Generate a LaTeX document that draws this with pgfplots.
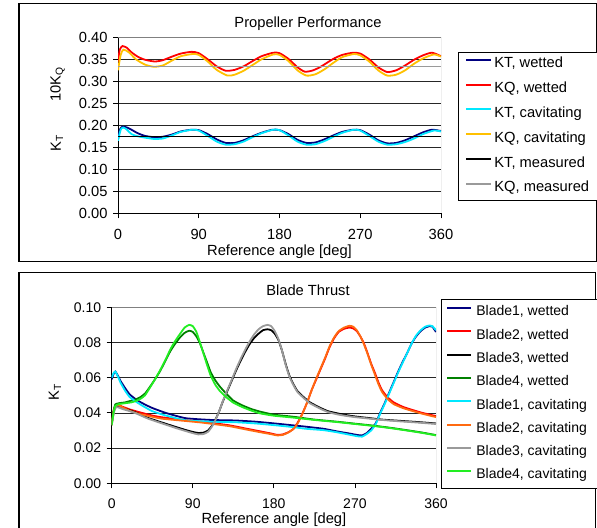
\documentclass[border=0pt]{standalone}
\usepackage{pgfplots}
\pgfplotsset{compat=1.18}
\usepackage{fontspec}
\setmainfont{Liberation Sans}
\definecolor{cnavy}{HTML}{000080}
\definecolor{cred}{HTML}{FF0000}
\definecolor{ccyan}{HTML}{00E8FF}
\definecolor{cgold}{HTML}{FFC000}
\definecolor{cgray}{HTML}{9A9A9A}
\definecolor{cdgreen}{HTML}{008000}
\definecolor{corange}{HTML}{FF6A10}
\definecolor{clgreen}{HTML}{22EE22}
\newcommand\fA{\fontsize{14.7bp}{17bp}\selectfont}
\newcommand\fB{\fontsize{14bp}{16.5bp}\selectfont}
\pgfplotsset{
  excelaxis/.style={
    scale only axis,
    xmin=0, xmax=360, xtick={0,90,180,270,360},
    axis x line*=bottom, axis y line*=left,
    tick align=outside, major tick length=5bp,
    tick style={black, line width=0.8bp},
    axis line style={black, line width=0.8bp},
    ymajorgrids, major grid style={black!85, line width=0.7bp},
    /pgf/number format/assume math mode=true,
    xticklabel style={yshift=-7bp},
    yticklabel style={xshift=-2bp,/pgf/number format/.cd, fixed, fixed zerofill, precision=2},
    legend cell align=left,
    every axis plot/.append style={line width=1.8bp, no markers},
  }
}
\begin{document}
\begin{tikzpicture}
\useasboundingbox (0bp,0bp) rectangle (597bp,528bp);
\draw[black, line width=1.1bp] (19bp,266.3bp) rectangle (596.5bp,524.5bp);
\draw[black, line width=1.1bp] (19bp,-5bp) rectangle (595.5bp,255.3bp);

\node[font=\fA, anchor=base] at (308bp,500.7bp) {Propeller Performance};
\node[font=\fA, anchor=base] at (308bp,232bp) {Blade Thrust};
\node[font=\fA, anchor=base] at (279.5bp,272bp) {Reference angle [deg]};
\node[font=\fA, anchor=base] at (273.9bp,4.7bp) {Reference angle [deg]};
\node[font=\fA, rotate=90] at (57.5bp,443.5bp) {10K\textsubscript{Q}};
\node[font=\fA, rotate=90] at (57bp,384.5bp) {K\textsubscript{T}};
\node[font=\fA, rotate=90] at (55bp,136bp) {K\textsubscript{T}};

% ---------- top chart ----------
\begin{axis}[excelaxis,
  at={(118bp,314.7bp)}, anchor=south west, width=323bp, height=176bp,
  ymin=0, ymax=0.4, ytick={0,0.05,0.1,0.15,0.2,0.25,0.3,0.35,0.4},
  ticklabel style={font=\fA},
  legend image code/.code={\draw[#1, line width=2bp] (0bp,4.5bp) -- (25bp,4.5bp);},
  legend style={at={(1.05263,0.9165)}, anchor=north west, draw=black, line width=0.8bp,
    fill=white, font=\fA, inner xsep=7bp, inner ysep=5bp, row sep=10.8bp, column sep=2bp,
    nodes={inner sep=0pt, text height=10.5bp, text depth=3.5bp}},
]
\addplot[cnavy, smooth, tension=0.4] coordinates {(0,0.168)(2,0.19)(5,0.197)(10,0.195)(15,0.190)(22,0.182)(30,0.176)(40,0.173)(50,0.174)(60,0.179)(70,0.186)(82,0.190)(90,0.189)(100,0.180)(110,0.168)(120,0.160)(130,0.160)(140,0.166)(150,0.175)(160,0.183)(172,0.190)(180,0.189)(190,0.180)(200,0.167)(210,0.160)(220,0.161)(230,0.168)(240,0.177)(250,0.185)(262,0.190)(270,0.189)(280,0.179)(290,0.166)(300,0.159)(310,0.160)(320,0.166)(330,0.175)(340,0.184)(350,0.190)(360,0.187)};
\addlegendentry{\makebox[96bp][l]{KT, wetted}}
\addplot[cred, smooth, tension=0.4] coordinates {(0,0.345)(2,0.372)(5,0.380)(10,0.376)(15,0.366)(22,0.356)(30,0.349)(41,0.345)(50,0.348)(60,0.356)(70,0.363)(82,0.367)(90,0.364)(100,0.350)(110,0.334)(120,0.324)(130,0.326)(140,0.334)(150,0.346)(160,0.357)(173,0.365)(180,0.364)(190,0.351)(200,0.332)(208,0.322)(216,0.324)(225,0.332)(240,0.351)(250,0.360)(262,0.365)(270,0.363)(280,0.350)(290,0.332)(300,0.321)(310,0.325)(320,0.336)(330,0.349)(340,0.359)(350,0.365)(360,0.357)};
\addlegendentry{\makebox[96bp][l]{KQ, wetted}}
\addplot[ccyan, smooth, tension=0.4] coordinates {(0,0.165)(3,0.190)(6,0.195)(10,0.190)(15,0.180)(22,0.175)(30,0.172)(40,0.169)(50,0.170)(60,0.177)(70,0.185)(83,0.190)(90,0.188)(100,0.176)(110,0.163)(120,0.156)(130,0.157)(140,0.163)(150,0.173)(160,0.182)(173,0.190)(180,0.189)(190,0.177)(200,0.163)(210,0.156)(220,0.157)(230,0.164)(240,0.174)(250,0.183)(263,0.190)(270,0.188)(280,0.176)(290,0.163)(300,0.156)(310,0.157)(320,0.162)(330,0.170)(340,0.180)(352,0.188)(360,0.186)};
\addlegendentry{\makebox[96bp][l]{KT, cavitating}}
\addplot[cgold, smooth, tension=0.4] coordinates {(0,0.325)(3,0.360)(6,0.372)(12,0.366)(20,0.350)(30,0.338)(40,0.333)(50,0.336)(60,0.347)(70,0.357)(83,0.362)(90,0.360)(100,0.345)(110,0.326)(122,0.313)(130,0.315)(140,0.324)(150,0.337)(160,0.350)(173,0.361)(180,0.360)(190,0.346)(200,0.325)(210,0.313)(220,0.316)(230,0.327)(240,0.342)(250,0.355)(263,0.362)(270,0.359)(280,0.345)(290,0.325)(300,0.313)(310,0.315)(320,0.325)(330,0.340)(340,0.352)(352,0.361)(360,0.356)};
\addlegendentry{\makebox[96bp][l]{KQ, cavitating}}
\addplot[black, line width=1.2bp] coordinates {(0,0.174)(360,0.174)};
\addlegendentry{\makebox[96bp][l]{KT, measured}}
\addplot[cgray, line width=1.2bp] coordinates {(0,0.334)(360,0.334)};
\addlegendentry{\makebox[96bp][l]{KQ, measured}}
\draw[gray, line width=0.8bp] (rel axis cs:0,1) -- (rel axis cs:1,1) -- (rel axis cs:1,0);
\end{axis}

% ---------- bottom chart ----------
\begin{axis}[excelaxis,
  at={(111.7bp,44.7bp)}, anchor=south west, width=324.3bp, height=176bp,
  ymin=0, ymax=0.1, ytick={0,0.02,0.04,0.06,0.08,0.1},
  ticklabel style={font=\fB},
  legend image code/.code={\draw[#1, line width=2bp] (0bp,4.3bp) -- (24bp,4.3bp);},
  legend style={at={(1.0154,1.0472)}, anchor=north west, draw=black, line width=0.8bp,
    fill=white, font=\fB, inner xsep=5bp, inner ysep=6bp, row sep=9.3bp, column sep=4bp,
    nodes={inner sep=0pt, text height=10.5bp, text depth=3.5bp}},
]
\addplot[cnavy, smooth, tension=0.3] coordinates {(0,0.059)(2,0.062)(4,0.0635)(7,0.061)(10,0.058)(15,0.054)(20,0.0505)(28,0.0473)(36,0.045)(45,0.0428)(60,0.040)(82,0.037)(110,0.036)(137,0.0357)(160,0.035)(181,0.034)(200,0.033)(215,0.0322)(235,0.031)(250,0.0295)(265,0.0282)(272,0.0275)(278,0.0272)(283,0.0285)(288,0.031)(293,0.034)(298,0.040)(303,0.0455)(308,0.0515)(313,0.0575)(318,0.0635)(323,0.069)(328,0.074)(333,0.0795)(338,0.0835)(343,0.0865)(348,0.0885)(353,0.0893)(356,0.089)(360,0.086)};
\addlegendentry{\makebox[116bp][l]{Blade1, wetted}}
\addplot[cred, smooth, tension=0.3] coordinates {(0,0.034)(2,0.041)(4,0.044)(7,0.0445)(12,0.0435)(20,0.042)(30,0.0405)(45,0.0385)(56,0.0375)(80,0.036)(100,0.035)(130,0.033)(150,0.031)(165,0.0295)(176,0.0284)(184,0.0275)(190,0.0278)(196,0.029)(202,0.031)(207,0.035)(212,0.040)(217,0.046)(222,0.053)(227,0.059)(232,0.065)(237,0.071)(242,0.0775)(247,0.0825)(252,0.086)(258,0.0878)(264,0.0885)(268,0.088)(272,0.0865)(276,0.0835)(280,0.0795)(284,0.074)(288,0.068)(292,0.063)(296,0.0575)(300,0.053)(306,0.049)(313,0.046)(323,0.0435)(333,0.0418)(345,0.040)(360,0.0382)};
\addlegendentry{\makebox[116bp][l]{Blade2, wetted}}
\addplot[black, smooth, tension=0.3] coordinates {(0,0.034)(2,0.040)(4,0.0435)(7,0.0438)(12,0.0428)(20,0.0415)(28,0.040)(40,0.0372)(56,0.0345)(70,0.0322)(82,0.0303)(90,0.0292)(96,0.0286)(102,0.0288)(107,0.030)(111,0.0325)(115,0.036)(119,0.0405)(123,0.046)(128,0.052)(133,0.058)(138,0.064)(143,0.0695)(148,0.0745)(153,0.079)(158,0.0825)(163,0.085)(168,0.087)(173,0.0875)(177,0.087)(181,0.085)(185,0.0815)(189,0.0755)(193,0.068)(197,0.0615)(201,0.057)(206,0.0525)(213,0.049)(220,0.046)(231,0.043)(240,0.041)(250,0.0398)(260,0.0388)(270,0.038)(287,0.037)(300,0.0362)(320,0.0355)(340,0.0348)(360,0.034)};
\addlegendentry{\makebox[116bp][l]{Blade3, wetted}}
\addplot[cdgreen, smooth, tension=0.3] coordinates {(0,0.034)(2,0.041)(4,0.0448)(8,0.0455)(15,0.046)(22,0.047)(28,0.048)(32,0.049)(37,0.051)(42,0.0545)(48,0.059)(54,0.064)(60,0.070)(65,0.075)(70,0.079)(76,0.083)(81,0.0855)(86,0.0867)(90,0.086)(94,0.0835)(98,0.0795)(102,0.074)(106,0.0685)(110,0.063)(115,0.0585)(120,0.055)(127,0.051)(135,0.047)(145,0.0443)(155,0.0422)(165,0.0407)(180,0.039)(202,0.0378)(225,0.0362)(250,0.035)(268,0.034)(290,0.0328)(310,0.0315)(330,0.030)(345,0.0288)(360,0.0274)};
\addlegendentry{\makebox[116bp][l]{Blade4, wetted}}
\addplot[ccyan, smooth, tension=0.3] coordinates {(0,0.060)(2,0.0625)(4,0.0635)(7,0.0605)(10,0.057)(15,0.0525)(20,0.049)(28,0.046)(36,0.0435)(45,0.041)(60,0.0385)(82,0.0358)(110,0.035)(137,0.0347)(160,0.034)(181,0.033)(200,0.032)(215,0.031)(235,0.0302)(250,0.029)(265,0.0275)(272,0.0268)(278,0.0265)(283,0.028)(288,0.030)(293,0.0335)(298,0.0395)(303,0.045)(308,0.051)(313,0.057)(318,0.063)(323,0.0685)(328,0.074)(333,0.0795)(338,0.084)(343,0.087)(348,0.089)(353,0.0897)(356,0.0893)(360,0.087)};
\addlegendentry{\makebox[116bp][l]{Blade1, cavitating}}
\addplot[corange, smooth, tension=0.3] coordinates {(0,0.033)(2,0.040)(4,0.0435)(7,0.0445)(12,0.0432)(20,0.0412)(30,0.0395)(45,0.0378)(56,0.0367)(80,0.0355)(100,0.0345)(130,0.0325)(150,0.0305)(165,0.029)(176,0.028)(184,0.0272)(190,0.0275)(196,0.0288)(202,0.031)(207,0.0345)(212,0.0398)(217,0.046)(222,0.053)(227,0.0595)(232,0.0655)(237,0.0715)(242,0.078)(247,0.083)(252,0.0865)(258,0.0885)(264,0.0895)(268,0.089)(272,0.087)(276,0.0835)(280,0.079)(284,0.0735)(288,0.0675)(292,0.062)(296,0.0565)(300,0.052)(306,0.048)(313,0.045)(323,0.0428)(333,0.0412)(345,0.0395)(360,0.0376)};
\addlegendentry{\makebox[116bp][l]{Blade2, cavitating}}
\addplot[cgray, smooth, tension=0.3] coordinates {(0,0.033)(2,0.039)(4,0.0428)(7,0.0432)(12,0.0422)(20,0.041)(28,0.0395)(40,0.0368)(56,0.034)(70,0.0316)(82,0.0297)(90,0.0285)(96,0.0278)(102,0.028)(107,0.0293)(111,0.032)(115,0.0358)(119,0.0405)(123,0.0462)(128,0.0525)(133,0.0585)(138,0.0648)(143,0.0705)(148,0.0757)(153,0.0805)(158,0.0845)(163,0.0875)(168,0.0893)(173,0.090)(177,0.0893)(181,0.0865)(185,0.082)(189,0.0755)(193,0.0675)(197,0.061)(201,0.0565)(206,0.052)(213,0.0485)(220,0.0455)(231,0.0425)(240,0.0405)(250,0.0392)(260,0.0383)(270,0.0376)(287,0.0367)(300,0.036)(320,0.0352)(340,0.0345)(360,0.0337)};
\addlegendentry{\makebox[116bp][l]{Blade3, cavitating}}
\addplot[clgreen, smooth, tension=0.3] coordinates {(0,0.033)(2,0.040)(4,0.044)(8,0.045)(15,0.0455)(22,0.046)(28,0.047)(32,0.048)(37,0.050)(42,0.054)(48,0.059)(54,0.0645)(60,0.0705)(65,0.076)(70,0.0805)(76,0.085)(81,0.0885)(86,0.090)(90,0.0893)(94,0.086)(98,0.080)(102,0.0735)(106,0.067)(110,0.061)(115,0.056)(120,0.0525)(127,0.049)(135,0.0458)(145,0.0433)(155,0.0413)(165,0.0397)(180,0.0384)(202,0.0373)(225,0.036)(250,0.0348)(268,0.0338)(290,0.0326)(310,0.0313)(330,0.0298)(345,0.0286)(360,0.0272)};
\addlegendentry{\makebox[116bp][l]{Blade4, cavitating}}
\draw[gray, line width=0.8bp] (rel axis cs:0,1) -- (rel axis cs:1,1) -- (rel axis cs:1,0);
\end{axis}
\end{tikzpicture}
\end{document}
